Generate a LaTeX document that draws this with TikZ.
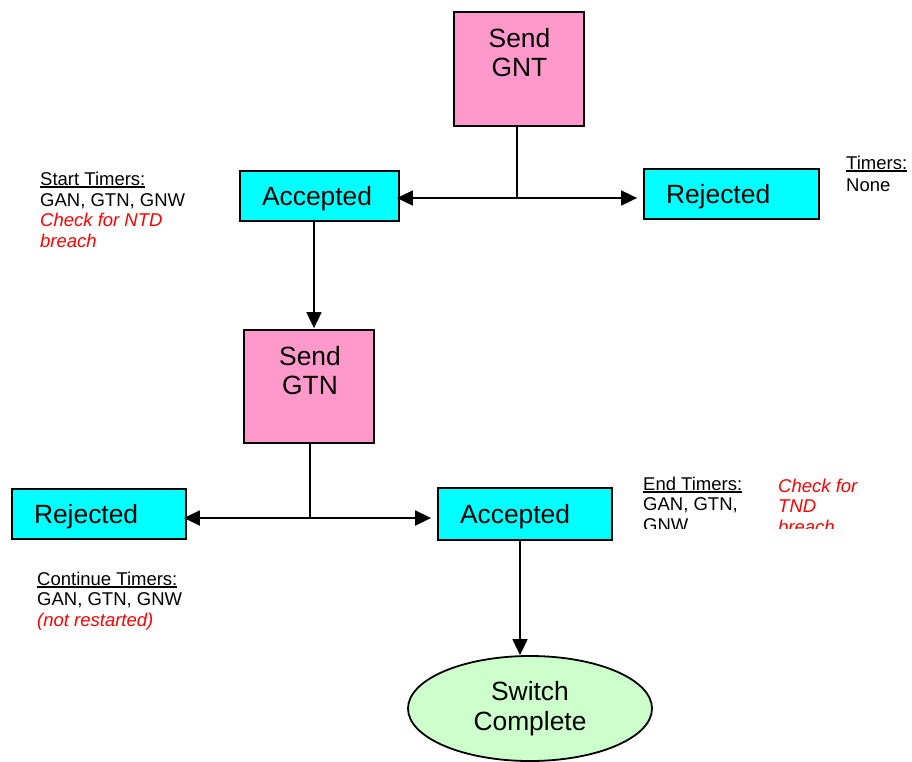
\documentclass[tikz,border=0pt]{standalone}
\usepackage{fontspec}
\setmainfont{Liberation Sans}
\usetikzlibrary{arrows.meta,shapes.geometric}
\definecolor{boxpink}{HTML}{FF99CC}
\definecolor{boxcyan}{HTML}{00FFFF}
\definecolor{boxgreen}{HTML}{CCFFCC}
\definecolor{notered}{HTML}{FF0000}
\newcommand\myboxfont{\fontsize{26.4}{29.5}\selectfont}
\newcommand\mynotefont{\fontsize{18.5}{20.5}\selectfont}
\newcommand\myul[1]{\setbox0\hbox{#1}\rlap{\rule[-2.6pt]{\wd0}{1.5pt}}\box0}
\begin{document}
\begin{tikzpicture}[x=1pt,y=-1pt,
  box/.style={draw=black, line width=1.8pt, inner sep=0pt},
  sendbox/.style={box, fill=boxpink, minimum width=130pt},
  statebox/.style={box, fill=boxcyan, inner xsep=22pt, text depth=0pt, align=left, font=\myboxfont},
  boxtext/.style={inner sep=0pt, align=center, font=\myboxfont},
  endbox/.style={box, ellipse, fill=boxgreen, align=center, font=\myboxfont},
  note/.style={anchor=base west, inner sep=0pt, font=\mynotefont},
  rednote/.style={note, text=notered, font=\mynotefont\itshape},
  conn/.style={line width=1.8pt},
  arr/.style={conn, -{Triangle[length=16pt,width=15pt]}}
]
\useasboundingbox (0,0) rectangle (912,761);

% boxes
\node[sendbox, minimum height=114pt] (gnt) at (519,69) {};
\node[boxtext] (gnttext) at (519.5,52.5) {Send\\GNT};
\node[statebox, text width=115pt, minimum height=50pt] (acc1) at (319.5,196) {Accepted};
\node[statebox, text width=131pt, minimum height=50pt] (rej1) at (731.5,194) {Rejected};
\node[sendbox, minimum height=113pt] (gtn) at (309,386.5) {};
\node[boxtext] (gtntext) at (310,370.5) {Send\\GTN};
\node[statebox, text width=130pt, minimum height=50pt] (rej2) at (99,514) {Rejected};
\node[statebox, text width=130pt, minimum height=52pt] (acc2) at (525,514) {Accepted};
\node[endbox, minimum width=244pt, minimum height=105pt] (sw) at (530,708.5) {Switch\\Complete};

% connectors
\coordinate (j1) at (517,198);
\coordinate (c1) at (314,0);
\coordinate (j2) at (310,518);
\coordinate (c2) at (520,0);
\draw[conn] (gnt.south -| j1) -- (j1);
\draw[arr, shorten >=-3pt] (j1) -- (acc1.east |- j1);
\draw[arr, shorten >=6pt] (j1) -- (rej1.west |- j1);
\draw[arr, shorten >=1pt] (acc1.south -| c1) -- (gtn.north -| c1);
\draw[conn] (gtn.south -| j2) -- (j2);
\draw[arr, shorten >=-3pt] (j2) -- (rej2.east |- j2);
\draw[arr, shorten >=6pt] (j2) -- (acc2.west |- j2);
\draw[arr] (acc2.south -| c2) -- (sw.north -| c2);

% notes
\node[note] (st1) at (40,185) {\myul{Start Timers:}};
\node[note] (st2) at (40,206) {GAN, GTN, GNW};
\node[rednote] (st3) at (40,226.5) {Check for NTD};
\node[rednote] (st4) at (40,247) {breach};

\node[note] (tm1) at (846,169) {\myul{Timers:}};
\node[note] (tm2) at (846,191) {None};

\node[note] (ct1) at (37,585) {\myul{Continue Timers:}};
\node[note] (ct2) at (37,605.5) {GAN, GTN, GNW};
\node[rednote] (ct3) at (37,626) {(not restarted)};

\begin{scope}
\clip (630,460) rectangle (900,528);
\node[note] (et1) at (643,490) {\myul{End Timers:}};
\node[note] (et2) at (643,510.5) {GAN, GTN,};
\node[note] (et3) at (643,531) {GNW};
\node[rednote] (ck1) at (778,492) {Check for};
\node[rednote] (ck2) at (778,512.5) {TND};
\node[rednote] (ck3) at (778,533) {breach};
\end{scope}
\end{tikzpicture}
\end{document}
